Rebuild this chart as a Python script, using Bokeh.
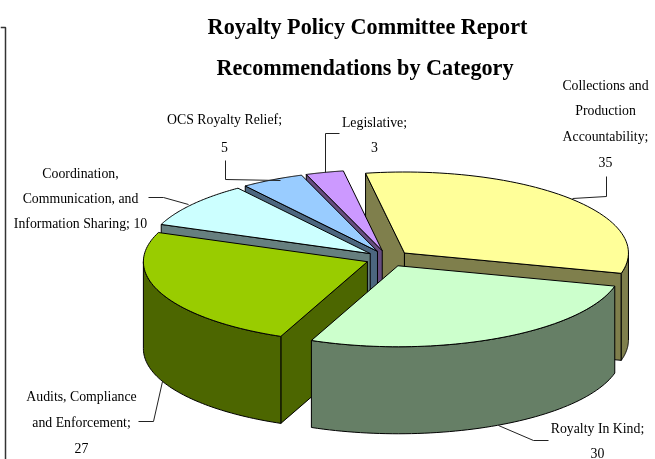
import math
from bokeh.plotting import figure
from bokeh.models import Range1d
from bokeh.core.properties import value
from bokeh.embed import file_html
from bokeh.resources import INLINE

categories = ["Collections and Production Accountability", "Royalty In Kind",
              "Audits, Compliance and Enforcement",
              "Coordination, Communication, and Information Sharing",
              "OCS Royalty Relief", "Legislative"]
values = [35, 30, 27, 10, 5, 3]
top_colors = ["#FFFF99", "#CCFFCC", "#99CC00", "#CCFFFF", "#99CCFF", "#CC99FF"]
side_colors = ["#7F7F4C", "#667F66", "#4C6600", "#667F7F", "#4C667F", "#664C7F"]
title_lines = ["Royalty Policy Committee Report", "Recommendations by Category"]
label_lines = [
    ["Collections and", "Production", "Accountability;", "35"],
    ["Royalty In Kind;", "30"],
    ["Audits, Compliance", "and Enforcement;", "27"],
    ["Coordination,", "Communication, and", "Information Sharing; 10"],
    ["OCS Royalty Relief;", "5"],
    ["Legislative;", "3"],
]

# layout (page pixels)
W, H = 655, 459
CX, CY, RX, RY, DEPTH, EXPLODE, START = 387.5, 258.0, 224.0, 81.0, 87.0, 0.1, -10.0
title_x = [367, 364.5]
title_y = [26, 67]
label_x = [605, 597, 81, 80, 224, 374]
label_y = [[85, 110, 136, 161], [428, 452], [396, 422, 447], [173, 198, 223], [119, 146], [122, 146]]
leaders = [
    ([572, 606, 606], [198, 196, 176]),
    ([498, 533, 548], [425, 440, 440]),
    ([162, 153, 138], [381, 421, 421]),
    ([148, 163, 188], [197, 197, 204]),
    ([225, 225, 280], [160, 179, 180]),
    ([325, 325, 339], [172, 133, 133]),
]

p = figure(width=W, height=H, x_range=Range1d(0, W), y_range=Range1d(H, 0),
           output_backend="svg", toolbar_location=None, min_border=0,
           x_axis_type=None, y_axis_type=None, outline_line_color=None,
           background_fill_color="white", border_fill_color="white")
p.grid.visible = False
p.styles = {"position": "fixed", "left": "0", "top": "0"}

def rim(ax, ay, deg):
    t = math.radians(deg)
    return ax + RX * math.sin(t), ay - RY * math.cos(t)

def arc(ax, ay, a, b, n=60):
    return [rim(ax, ay, a + (b - a) * i / n) for i in range(n + 1)]

total = sum(values)
slices = []
angle = START
for v in values:
    sweep = 360.0 * v / total
    mid = math.radians(angle + sweep / 2)
    ax = CX + EXPLODE * RX * math.sin(mid)
    ay = CY - EXPLODE * RY * math.cos(mid)
    slices.append((ax, ay, angle, angle + sweep))
    angle += sweep

# painter's order, back to front
for i in [0, 5, 4, 3, 2, 1]:
    ax, ay, a, b = slices[i]
    top, side = top_colors[i], side_colors[i]
    faces = []
    if math.sin(math.radians(a)) < 0:
        x, y = rim(ax, ay, a)
        faces.append(([ax, x, x, ax], [ay, y, y + DEPTH, ay + DEPTH]))
    if math.sin(math.radians(b)) > 0:
        x, y = rim(ax, ay, b)
        faces.append(([ax, x, x, ax], [ay, y, y + DEPTH, ay + DEPTH]))
    s, e = max(a, 90), min(b, 270)
    if s < e:
        pts = arc(ax, ay, s, e)
        xs = [q[0] for q in pts]
        ys = [q[1] for q in pts]
        faces.append((xs + xs[::-1], ys + [q + DEPTH for q in ys[::-1]]))
    for fx, fy in faces:
        p.patch(fx, fy, fill_color=side, line_color="black", line_width=1)
    pts = arc(ax, ay, a, b)
    p.patch([ax] + [q[0] for q in pts], [ay] + [q[1] for q in pts],
            fill_color=top, line_color="black", line_width=1)

for lx, ly in leaders:
    p.line(lx, ly, line_color="#222222", line_width=1)

# frame fragment at left
p.line([0, 5, 5], [27, 27, H], line_color="#333333", line_width=1.5)

for line, x, y in zip(title_lines, title_x, title_y):
    p.text([x], [y], text=[line], text_font=value("Liberation Serif"), text_font_size="22.2px",
           text_font_style="bold", text_align="center", text_baseline="middle", text_color="black")
for lines, x, ys in zip(label_lines, label_x, label_y):
    p.text([x] * len(lines), ys, text=lines, text_font=value("Liberation Serif"), text_font_size="13.8px",
           text_align="center", text_baseline="middle", text_color="black")

open("out.html", "w").write(file_html(p, INLINE))
